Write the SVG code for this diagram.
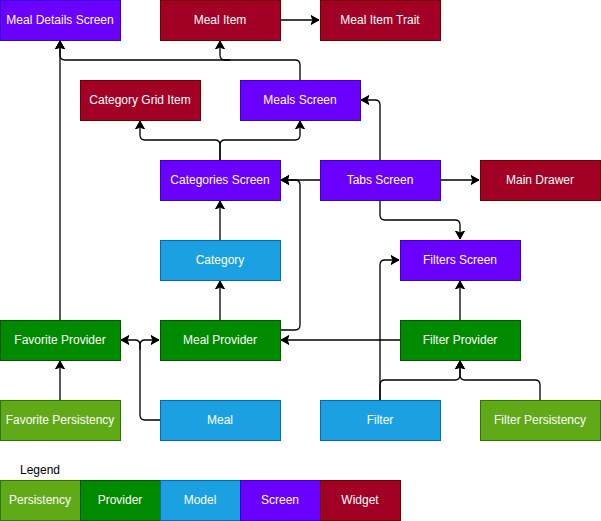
<svg xmlns="http://www.w3.org/2000/svg" width="601" height="521" viewBox="0 0 601 521">
<style>
.n text{font-family:"Liberation Sans",Arial,sans-serif;font-size:12px;fill:#ffffff;text-anchor:middle;dominant-baseline:central}
.scr{fill:#6a00ff;stroke:#3700cc}
.wid{fill:#a20025;stroke:#6f0000}
.prv{fill:#008a00;stroke:#005700}
.mdl{fill:#1ba1e2;stroke:#006eaf}
.per{fill:#60a917;stroke:#2d7600}
.e path{fill:none;stroke:#000000;stroke-width:1.3}
.a{marker-end:url(#arr)}
.lg{font-family:"Liberation Sans",Arial,sans-serif;font-size:12px;fill:#000000}
</style>
<defs>
<marker id="arr" markerUnits="userSpaceOnUse" markerWidth="10" markerHeight="10" refX="8" refY="4.5" orient="auto" viewBox="0 0 10 9">
<path d="M0,0 L8,4.5 L0,9 L2,4.5 z" fill="#000000" stroke="#000000" stroke-width="1"/>
</marker>
</defs>
<g class="e" id="connectors">
<path class="a" d="M300,80 L300,65 Q300,60 295,60 L65,60 Q60,60 60,55 L60,41"/>
<path class="a" d="M230,60 L225,60 Q220,60 220,55 L220,41"/>
<path class="a" d="M280,20 L319,20"/>
<path class="a" d="M220,160 L220,145 Q220,140 215,140 L145,140 Q140,140 140,135 L140,121"/>
<path class="a" d="M220,160 L220,145 Q220,140 225,140 L295,140 Q300,140 300,135 L300,121"/>
<path class="a" d="M320,180 L281,180"/>
<path class="a" d="M380,160 L380,105 Q380,100 375,100 L361,100"/>
<path class="a" d="M440,180 L479,180"/>
<path class="a" d="M380,200 L380,215 Q380,220 385,220 L455,220 Q460,220 460,225 L460,239"/>
<path class="a" d="M220,240 L220,201"/>
<path class="a" d="M280,330 L295,330 Q300,330 300,325 L300,185 Q300,180 295,180 L281,180"/>
<path class="a" d="M220,320 L220,281"/>
<path class="a" d="M400,340 L281,340"/>
<path class="a" d="M160,420 L145,420 Q140,420 140,415 L140,345 Q140,340 145,340 L159,340"/>
<path class="a" d="M140,350 L140,345 Q140,340 135,340 L121,340"/>
<path class="a" d="M60,320 L60,41"/>
<path class="a" d="M60,400 L60,361"/>
<path class="a" d="M460,320 L460,281"/>
<path class="a" d="M380,400 L380,265 Q380,260 385,260 L399,260"/>
<path class="a" d="M380,400 L380,385 Q380,380 385,380 L455,380 Q460,380 460,375 L460,361"/>
<path class="a" d="M540,400 L540,385 Q540,380 535,380 L465,380 Q460,380 460,375 L460,361"/>
</g>
<g class="n" id="meal-details-screen"><rect class="scr" x="0.5" y="0.5" width="120" height="40"/><text x="60" y="20">Meal Details Screen</text></g>
<g class="n" id="meal-item"><rect class="wid" x="160.5" y="0.5" width="120" height="40"/><text x="220" y="20">Meal Item</text></g>
<g class="n" id="meal-item-trait"><rect class="wid" x="320.5" y="0.5" width="120" height="40"/><text x="380" y="20">Meal Item Trait</text></g>
<g class="n" id="category-grid-item"><rect class="wid" x="80.5" y="80.5" width="120" height="40"/><text x="140" y="100">Category Grid Item</text></g>
<g class="n" id="meals-screen"><rect class="scr" x="240.5" y="80.5" width="120" height="40"/><text x="300" y="100">Meals Screen</text></g>
<g class="n" id="categories-screen"><rect class="scr" x="160.5" y="160.5" width="120" height="40"/><text x="220" y="180">Categories Screen</text></g>
<g class="n" id="tabs-screen"><rect class="scr" x="320.5" y="160.5" width="120" height="40"/><text x="380" y="180">Tabs Screen</text></g>
<g class="n" id="main-drawer"><rect class="wid" x="480.5" y="160.5" width="120" height="40"/><text x="540" y="180">Main Drawer</text></g>
<g class="n" id="category"><rect class="mdl" x="160.5" y="240.5" width="120" height="40"/><text x="220" y="260">Category</text></g>
<g class="n" id="filters-screen"><rect class="scr" x="400.5" y="240.5" width="120" height="40"/><text x="460" y="260">Filters Screen</text></g>
<g class="n" id="favorite-provider"><rect class="prv" x="0.5" y="320.5" width="120" height="40"/><text x="60" y="340">Favorite Provider</text></g>
<g class="n" id="meal-provider"><rect class="prv" x="160.5" y="320.5" width="120" height="40"/><text x="220" y="340">Meal Provider</text></g>
<g class="n" id="filter-provider"><rect class="prv" x="400.5" y="320.5" width="120" height="40"/><text x="460" y="340">Filter Provider</text></g>
<g class="n" id="favorite-persistency"><rect class="per" x="0.5" y="400.5" width="120" height="40"/><text x="60" y="420">Favorite Persistency</text></g>
<g class="n" id="meal"><rect class="mdl" x="160.5" y="400.5" width="120" height="40"/><text x="220" y="420">Meal</text></g>
<g class="n" id="filter"><rect class="mdl" x="320.5" y="400.5" width="120" height="40"/><text x="380" y="420">Filter</text></g>
<g class="n" id="filter-persistency"><rect class="per" x="480.5" y="400.5" width="120" height="40"/><text x="540" y="420">Filter Persistency</text></g>
<g id="legend">
<text class="lg" x="40" y="474" text-anchor="middle">Legend</text>
<g class="n" id="legend-persistency"><rect class="per" x="0.5" y="480.5" width="80" height="40"/><text x="40" y="500">Persistency</text></g>
<g class="n" id="legend-provider"><rect class="prv" x="80.5" y="480.5" width="80" height="40"/><text x="120" y="500">Provider</text></g>
<g class="n" id="legend-model"><rect class="mdl" x="160.5" y="480.5" width="80" height="40"/><text x="200" y="500">Model</text></g>
<g class="n" id="legend-screen"><rect class="scr" x="240.5" y="480.5" width="80" height="40"/><text x="280" y="500">Screen</text></g>
<g class="n" id="legend-widget"><rect class="wid" x="320.5" y="480.5" width="80" height="40"/><text x="360" y="500">Widget</text></g>
</g>
</svg>
